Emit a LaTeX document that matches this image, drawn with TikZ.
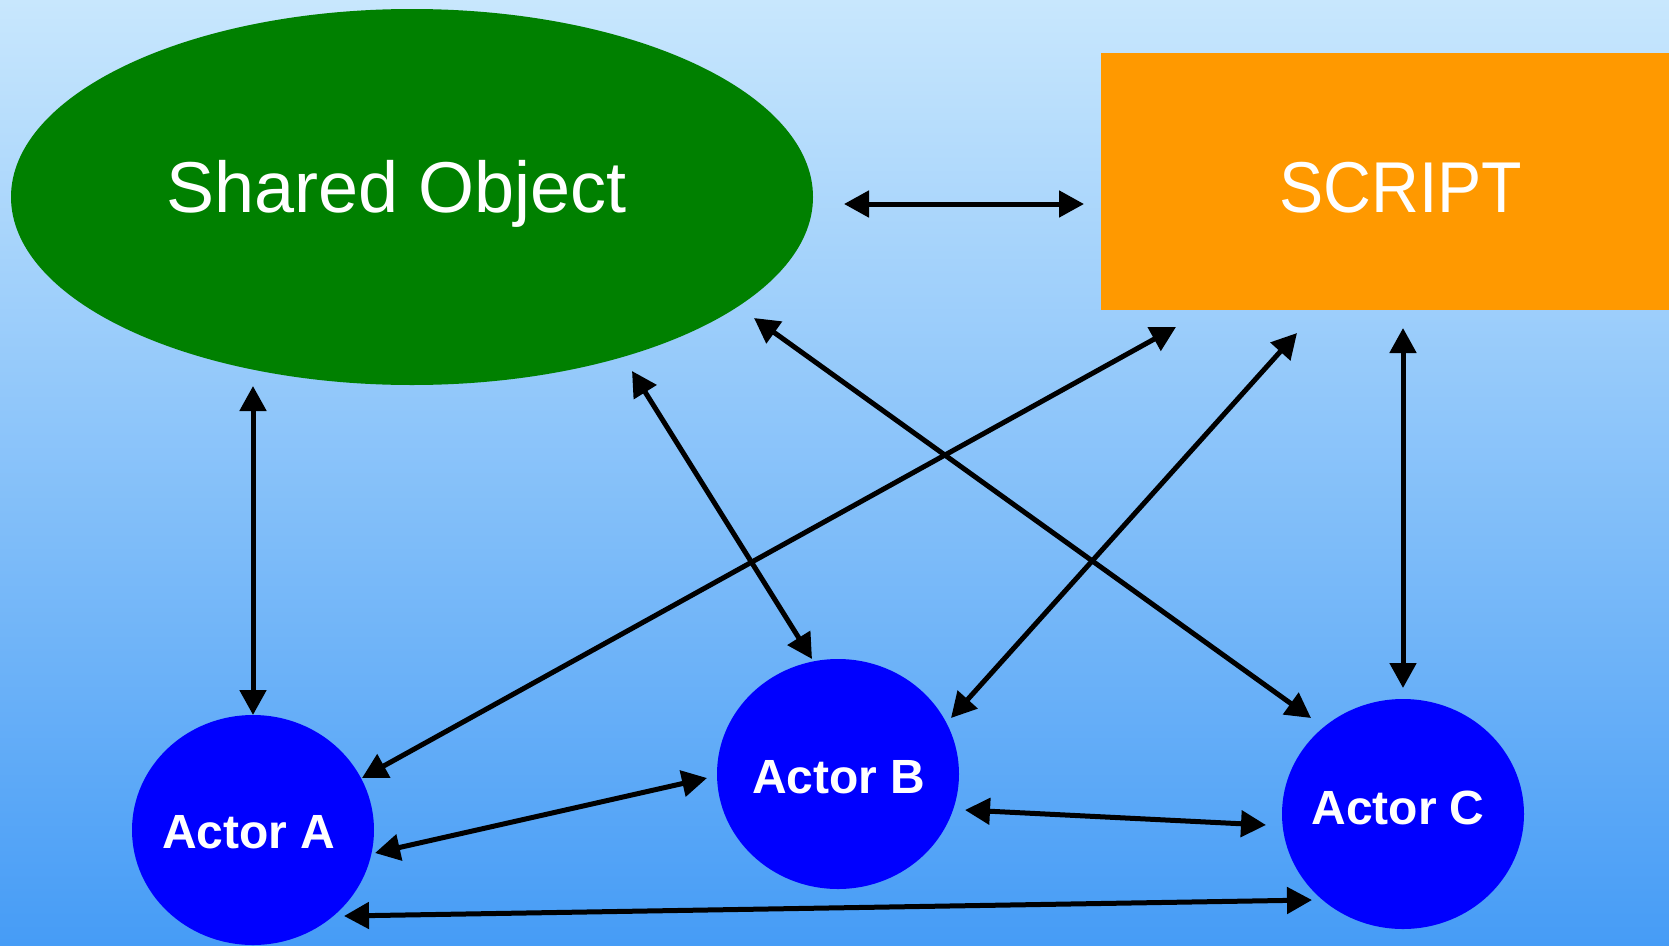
\documentclass[tikz,border=0pt]{standalone}
\usepackage{fontspec}
\setmainfont{Liberation Sans}
\usetikzlibrary{shapes.geometric,arrows.meta}
\definecolor{bgtop}{RGB}{200,231,253}
\definecolor{bgbot}{RGB}{70,156,246}
\definecolor{sogreen}{RGB}{0,128,0}
\definecolor{scorange}{RGB}{255,153,0}
\definecolor{actblue}{RGB}{0,0,255}
\newcommand\ctext[3]{\makebox[0pt]{\kern#1\raisebox{#2}[0pt][0pt]{#3}}}
\tikzset{
  sostyle/.style={ellipse, fill=sogreen, inner sep=0pt, minimum width=802pt, minimum height=376pt,
    text=white, font=\fontsize{72}{80}\selectfont},
  scstyle/.style={rectangle, fill=scorange, inner sep=0pt, minimum width=568pt, minimum height=257pt,
    text=white, font=\fontsize{72}{80}\selectfont},
  actor/.style={ellipse, fill=actblue, inner sep=0pt, minimum width=242pt, minimum height=230pt,
    text=white, font=\fontsize{48}{54}\selectfont\bfseries},
  link/.style={line width=5pt, draw=black, {Triangle[length=25pt,width=26pt]}-{Triangle[length=25pt,width=26pt]}}
}
\begin{document}
\begin{tikzpicture}[x=1pt,y=-1pt]
\useasboundingbox (0,0) rectangle (1669,945);
\shade[top color=bgtop, bottom color=bgbot] (0,0) rectangle (1669,945);
\node[sostyle] (so) at (412,197) {\ctext{-31pt}{-15pt}{Shared Object}};
\node[scstyle] (sc) at (1385,181.5) {\ctext{32pt}{-30.5pt}{\scalebox{0.92}[1]{SCRIPT}}};
\node[actor] (a) at (253,830) {\ctext{-8pt}{-18pt}{Actor A}};
\node[actor] (b) at (838,774) {\ctext{2pt}{-19pt}{Actor B}};
\node[actor] (c) at (1403,814) {\ctext{-10pt}{-10pt}{Actor C}};
\draw[link] ([shift={(432,7)}]so.center) -- ([shift={(-301,22.5)}]sc.center);
\draw[link] ([shift={(-159,189)}]so.center) -- ([shift={(0,-115)}]a.center);
\draw[link] ([shift={(220,174)}]so.center) -- ([shift={(-26,-115)}]b.center);
\draw[link] ([shift={(342,121)}]so.center) -- ([shift={(-92,-96)}]c.center);
\draw[link] ([shift={(-209,145.5)}]sc.center) -- ([shift={(109,-52)}]a.center);
\draw[link] ([shift={(-88,151.5)}]sc.center) -- ([shift={(113,-56)}]b.center);
\draw[link] ([shift={(18,146.5)}]sc.center) -- ([shift={(0,-126)}]c.center);
\draw[link] ([shift={(122,23)}]a.center) -- ([shift={(-131,4)}]b.center);
\draw[link] ([shift={(127,36)}]b.center) -- ([shift={(-137,11)}]c.center);
\draw[link] ([shift={(91,86)}]a.center) -- ([shift={(-91,86)}]c.center);
\end{tikzpicture}
\end{document}
